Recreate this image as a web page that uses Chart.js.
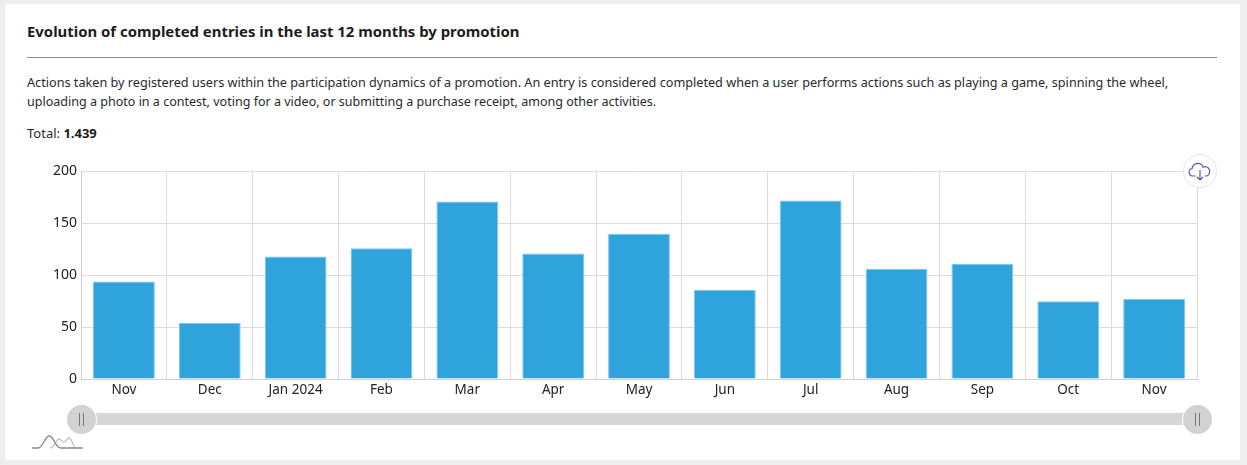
<!DOCTYPE html>
<html lang="en">
<head>
  <meta charset="UTF-8">
  <title>Completed entries by promotion</title>
  <script src="https://cdn.jsdelivr.net/npm/chart.js"></script>
  <style>
    html, body { margin: 0; padding: 0; background: #eeeeee; }
    body { width: 1247px; height: 465px; position: relative; overflow: hidden; font-family: "Noto Sans", sans-serif; color: #222; }
    #card { position: absolute; left: 5px; top: 4px; width: 1235px; height: 456px; background: #fff; }
    #title { position: absolute; left: 27px; top: 21px; font-size: 14.9px; font-weight: 700; line-height: 21px; color: #1c1c1c; white-space: nowrap; }
    #rule { position: absolute; left: 27px; top: 57px; width: 1190px; height: 1px; background: #8c8c8c; }
    .desc { position: absolute; left: 27px; line-height: 19px; color: #2a2a2a; white-space: nowrap; }
    #total { position: absolute; left: 27px; top: 124px; font-size: 13px; line-height: 19px; color: #2a2a2a; }
    #total b { color: #1c1c1c; }
    #wrap { position: absolute; left: 30px; top: 159px; width: 1180px; height: 241px; }
    #track { position: absolute; left: 81px; top: 413px; width: 1116px; height: 12px; background: #d6d6d6; }
    .grip { position: absolute; top: 404.5px; width: 29px; height: 29px; border-radius: 50%; background: #d2d2d2; box-shadow: 0 0 0 1px #fff; }
    .grip:before, .grip:after { content: ""; position: absolute; top: 8px; width: 1px; height: 13px; background: #777; }
    .grip:before { left: 12px; } .grip:after { left: 16px; }
    #save { position: absolute; left: 1183px; top: 154px; width: 32px; height: 32px; border-radius: 50%; background: #fff; border: 1px solid #e3e3f2; }
    #logo { position: absolute; left: 32px; top: 434px; }
  </style>
</head>
<body>
<div id="card"></div>
<div id="title">Evolution of completed entries in the last 12 months by promotion</div>
<div id="rule"></div>
<div class="desc" style="top:73px;font-size:12.66px">Actions taken by registered users within the participation dynamics of a promotion. An entry is considered completed when a user performs actions such as playing a game, spinning the wheel,</div>
<div class="desc" style="top:92px;font-size:12.54px">uploading a photo in a contest, voting for a video, or submitting a purchase receipt, among other activities.</div>
<div id="total">Total: <b>1.439</b></div>

<div id="wrap"><canvas id="entriesChart"></canvas></div>

<div id="track"></div>
<div class="grip" style="left:67px"></div>
<div class="grip" style="left:1182.5px"></div>

<div id="save">
  <svg width="32" height="32" viewBox="0 0 32 32" fill="none" stroke="#5b57b5" stroke-width="1.2">
    <path d="M11.5 21h-3a3.8 3.8 0 0 1-.4-7.5 5.6 5.6 0 0 1 10.8-1.4 4.5 4.5 0 0 1 4 8.9h-2.4"/>
    <path d="M16 15v10m-3-3 3 3 3-3"/>
  </svg>
</div>
<svg id="logo" width="52" height="16" viewBox="0 0 52 16" fill="none" stroke-width="1.3">
  <path d="M18 14c5 0 6-9 9-9 2 0 3 3 5 3 2 0 3-4 5-4 3 0 4 10 7 10" stroke="#c4c4c4"/>
  <path d="M0 14h6c5 0 7-12 11-12 5 0 6 12 12 12h22" stroke="#8a8a8a"/>
</svg>

<script>
const months = ['Nov','Dec','Jan 2024','Feb','Mar','Apr','May','Jun','Jul','Aug','Sep','Oct','Nov'];
const entries = [94,54,118,126,171,121,140,86,172,106,111,75,77];
const yTicks = [0,50,100,150,200];

new Chart(document.getElementById('entriesChart'), {
  type: 'bar',
  data: {
    labels: months,
    datasets: [{
      label: 'Entries',
      data: entries,
      backgroundColor: '#2ea3dc',
      borderColor: '#7cc6ec',
      borderWidth: 1,
      categoryPercentage: 0.72,
      barPercentage: 1
    }]
  },
  options: {
    responsive: true,
    maintainAspectRatio: false,
    animation: false,
    layout: { padding: { top: 11, right: 13, bottom: 0, left: 0 } },
    plugins: { legend: { display: false }, tooltip: { enabled: false } },
    scales: {
      x: {
        offset: true,
        grid: { color: '#dcdcdf', drawTicks: false },
        border: { color: '#cfcfcf' },
        ticks: { color: '#222', font: { family: 'Noto Sans', size: 13.5 }, maxRotation: 0, autoSkip: false, padding: 3 },
        afterFit: s => { s.height = 21; }
      },
      y: {
        min: 0,
        max: 200,
        grid: { color: '#dcdcdf', drawTicks: false },
        border: { color: '#cfcfcf' },
        ticks: { color: '#222', font: { family: 'Noto Sans', size: 14 }, padding: 4 },
        afterBuildTicks: s => { s.ticks = yTicks.map(v => ({ value: v })); },
        afterFit: s => { s.width = 51; }
      }
    }
  }
});
</script>
</body>
</html>
